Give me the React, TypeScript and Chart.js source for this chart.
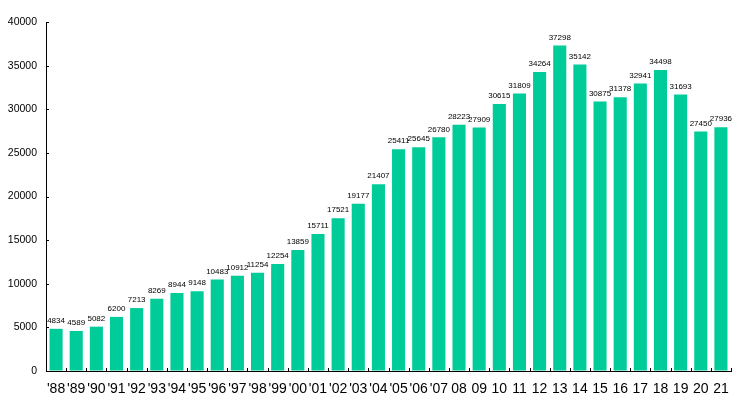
import React, { useEffect, useRef } from "react";
import { Chart, registerables } from "chart.js";

Chart.register(...registerables);

const categories = [
  "'88", "'89", "'90", "'91", "'92", "'93", "'94", "'95", "'96", "'97",
  "'98", "'99", "'00", "'01", "'02", "'03", "'04", "'05", "'06", "'07",
  "08", "09", "10", "11", "12", "13", "14", "15", "16", "17", "18", "19", "20", "21",
];

const values = [
  4834, 4589, 5082, 6200, 7213, 8269, 8944, 9148, 10483, 10912,
  11254, 12254, 13859, 15711, 17521, 19177, 21407, 25411, 25645, 26780,
  28223, 27909, 30615, 31809, 34264, 37298, 35142, 30875, 31378, 32941, 34498, 31693, 27450, 27936,
];

const yMax = 40000;
const yStep = 5000;

const BAR_COLOR = "#00CC99";

const valueLabels = {
  id: "valueLabels",
  afterDatasetsDraw(chart: any) {
    const ctx = chart.ctx;
    const meta = chart.getDatasetMeta(0);
    ctx.save();
    ctx.font = "8px 'Liberation Sans', Arial, sans-serif";
    ctx.fillStyle = "#000";
    ctx.textAlign = "center";
    ctx.textBaseline = "bottom";
    meta.data.forEach((bar: any, i: number) => {
      ctx.fillText(String(values[i]), bar.x, bar.y - 4);
    });
    ctx.restore();
  },
};

const innerTicks = {
  id: "innerTicks",
  afterDraw(chart: any) {
    const ctx = chart.ctx;
    const y = chart.scales.y;
    const area = chart.chartArea;
    ctx.save();
    ctx.strokeStyle = "#000";
    ctx.lineWidth = 1;
    ctx.beginPath();
    y.ticks.forEach((t: any) => {
      const py = Math.round(y.getPixelForValue(t.value)) + 0.5;
      ctx.moveTo(area.left, py);
      ctx.lineTo(area.left + 3, py);
    });
    const n = categories.length;
    const w = (area.right - area.left) / n;
    for (let i = 1; i <= n; i++) {
      const px = Math.round(area.left + i * w) + 0.5;
      ctx.moveTo(px, area.bottom);
      ctx.lineTo(px, area.bottom - 3);
    }
    ctx.stroke();
    ctx.restore();
  },
};

export default function App() {
  const ref = useRef<HTMLCanvasElement>(null);

  useEffect(() => {
    if (!ref.current) return;
    const chart = new Chart(ref.current, {
      type: "bar",
      data: {
        labels: categories,
        datasets: [
          {
            data: values,
            backgroundColor: BAR_COLOR,
            borderWidth: 0,
            barPercentage: 0.65,
            categoryPercentage: 1,
          },
        ],
      },
      options: {
        responsive: false,
        animation: false,
        devicePixelRatio: 1,
        layout: { padding: { top: 22, right: 9, left: 0, bottom: 0 } },
        plugins: {
          legend: { display: false },
          tooltip: { enabled: false },
        },
        scales: {
          x: {
            grid: { display: true, drawOnChartArea: false, drawTicks: false },
            border: { display: true, color: "#000", width: 1 },
            ticks: {
              color: "#000",
              font: { family: "'Liberation Sans', Arial, sans-serif", size: 14 },
              padding: 10,
              maxRotation: 0,
              autoSkip: false,
            },
            afterFit(scale: any) {
              scale.height = 28;
            },
          },
          y: {
            min: 0,
            max: yMax,
            grid: { display: true, drawOnChartArea: false, drawTicks: false },
            border: { display: true, color: "#000", width: 1 },
            ticks: {
              stepSize: yStep,
              color: "#000",
              font: { family: "'Liberation Sans', Arial, sans-serif", size: 10.5 },
              padding: 9,
              callback: (v: any) => String(v),
            },
            afterFit(scale: any) {
              scale.width = 46;
            },
          },
        },
      },
      plugins: [valueLabels, innerTicks],
    });
    return () => chart.destroy();
  }, []);

  return (
    <div style={{ position: "absolute", left: 0, top: 0, width: 740, height: 399, background: "#fff" }}>
      <canvas ref={ref} width={740} height={399} />
    </div>
  );
}
